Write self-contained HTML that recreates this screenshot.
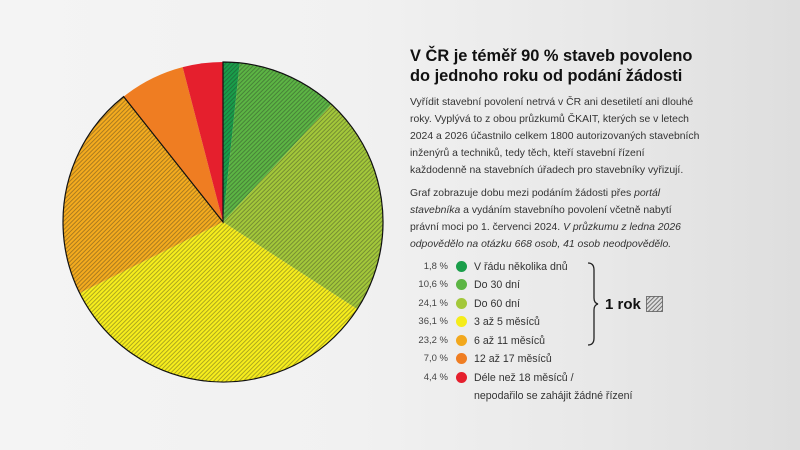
<!DOCTYPE html>
<html><head><meta charset="utf-8"><style>
body{margin:0;width:800px;height:450px;overflow:hidden;font-family:"Liberation Sans",sans-serif;color:#222;}
#bg{position:absolute;left:0;top:0;width:800px;height:450px;background:linear-gradient(90deg,#f4f4f4 0%,#f1f1f1 45%,#e8e8e8 75%,#dedede 100%);}
.t{position:absolute;white-space:nowrap;}
h1{position:absolute;left:410px;top:46px;margin:0;font-size:16.4px;line-height:20px;font-weight:bold;color:#111;white-space:nowrap;}
.p{position:absolute;left:410px;font-size:10.4px;line-height:17px;color:#333;white-space:nowrap;}
.lg{position:absolute;font-size:10.6px;color:#333;white-space:nowrap;}
.pc{position:absolute;width:40px;text-align:right;left:408px;font-size:9.5px;color:#444;}
.d{position:absolute;left:456px;width:11px;height:11px;border-radius:50%;}
.lt{position:absolute;left:474px;}
</style></head><body>
<div id="bg"></div>
<svg style="position:absolute;left:0;top:0" width="800" height="450">
<defs><pattern id="h" width="3" height="3" patternUnits="userSpaceOnUse" patternTransform="rotate(45)"><line x1="0.5" y1="0" x2="0.5" y2="3" stroke="#222" stroke-width="0.7"/></pattern></defs>
<g id="pie"></g>
</svg>
<script>
var cx=223,cy=222,r=160;
function pt(a){a=a*Math.PI/180;return [cx+r*Math.sin(a),cy-r*Math.cos(a)];}
var s=[[0,6,"#1a9e4a",1],[6,42.7,"#5cb544",1],[42.7,123,"#a3c83a",1],[123,243.6,"#f7ee1c",1],[243.6,321.6,"#f4ab1e",1],[321.6,345.4,"#ef7d22",0],[345.4,360,"#e51f2d",0]];
var g="";
s.forEach(function(x){var p1=pt(x[0]),p2=pt(x[1]);var la=(x[1]-x[0])>180?1:0;
var d="M"+cx+","+cy+"L"+p1[0]+","+p1[1]+"A"+r+","+r+" 0 "+la+" 1 "+p2[0]+","+p2[1]+"Z";
g+='<path d="'+d+'" fill="'+x[2]+'"/>';if(x[3])g+='<path d="'+d+'" fill="url(#h)" opacity="0.5"/>';});
var e=pt(321.6),t=pt(0);
g+='<path d="M'+t[0]+','+t[1]+'A'+r+','+r+' 0 1 1 '+e[0]+','+e[1]+'L'+cx+','+cy+'Z" fill="none" stroke="#111" stroke-width="1.2"/>';
document.getElementById("pie").innerHTML=g;
</script>
<h1>V ČR je téměř 90 % staveb povoleno<br>do jednoho roku od podání žádosti</h1>
<div class="p" style="top:94px">Vyřídit stavební povolení netrvá v ČR ani desetiletí ani dlouhé<br>roky. Vyplývá to z obou průzkumů ČKAIT, kterých se v letech<br>2024 a 2026 účastnilo celkem 1800 autorizovaných stavebních<br>inženýrů a techniků, tedy těch, kteří stavební řízení<br>každodenně na stavebních úřadech pro stavebníky vyřizují.</div>
<div class="p" style="top:185px">Graf zobrazuje dobu mezi podáním žádosti přes <i>portál</i><br><i>stavebníka</i> a vydáním stavebního povolení včetně nabytí<br>právní moci po 1. červenci 2024. <i>V průzkumu z ledna 2026</i><br><i>odpovědělo na otázku 668 osob, 41 osob neodpovědělo.</i></div>
<div class="lg" style="top:261px"><span class="pc">1,8 %</span><span class="d" style="background:#1a9e4a"></span><span class="lt">V řádu několika dnů</span></div>
<div class="lg" style="top:279px"><span class="pc">10,6 %</span><span class="d" style="background:#5cb544"></span><span class="lt">Do 30 dní</span></div>
<div class="lg" style="top:298px"><span class="pc">24,1 %</span><span class="d" style="background:#a3c83a"></span><span class="lt">Do 60 dní</span></div>
<div class="lg" style="top:316px"><span class="pc">36,1 %</span><span class="d" style="background:#f5ec1a"></span><span class="lt">3 až 5 měsíců</span></div>
<div class="lg" style="top:335px"><span class="pc">23,2 %</span><span class="d" style="background:#f2a81d"></span><span class="lt">6 až 11 měsíců</span></div>
<div class="lg" style="top:353px"><span class="pc">7,0 %</span><span class="d" style="background:#ef7d22"></span><span class="lt">12 až 17 měsíců</span></div>
<div class="lg" style="top:372px"><span class="pc">4,4 %</span><span class="d" style="background:#e51f2d"></span><span class="lt">Déle než 18 měsíců /</span></div>
<div class="lg" style="top:390px"><span class="lt">nepodařilo se zahájit žádné řízení</span></div>
<svg style="position:absolute;left:585px;top:260px" width="20" height="90"><path d="M3,3 Q9,3 9,10 L9,38 Q9,43 13,44 Q9,45 9,50 L9,78 Q9,85 3,85" fill="none" stroke="#222" stroke-width="1.3"/></svg>
<div class="t" style="left:605px;top:296px;font-size:15px;font-weight:bold;color:#111">1 rok</div>
<svg style="position:absolute;left:646px;top:296px" width="18" height="17"><defs><pattern id="h2" width="3" height="3" patternUnits="userSpaceOnUse" patternTransform="rotate(45)"><line x1="0.5" y1="0" x2="0.5" y2="3" stroke="#555" stroke-width="0.8"/></pattern></defs><rect x="0.5" y="0.5" width="16" height="15" fill="#ddd" stroke="#777"/><rect x="0.5" y="0.5" width="16" height="15" fill="url(#h2)"/></svg>
</body></html>
